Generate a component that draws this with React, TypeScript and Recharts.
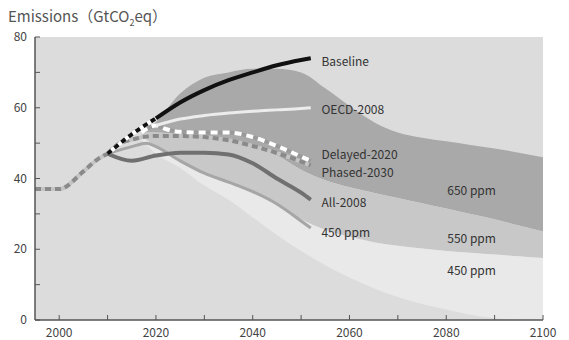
import { ComposedChart, Line, Area, XAxis, YAxis, CartesianGrid, ReferenceDot } from 'recharts';

const histYears = [1995, 2000, 2005, 2008, 2010];
const histValues = [37, 37, 42, 45.5, 47];

const baseDashYears = [2010, 2015, 2020];
const baseDashValues = [47, 52.5, 57];
const baseYears = [2020, 2025, 2030, 2035, 2040, 2045, 2050, 2052];
const baseValues = [57, 61.5, 65, 67.8, 70, 72, 73.5, 74];

const oecdYears = [2020, 2025, 2030, 2035, 2040, 2045, 2050, 2052];
const oecdValues = [55, 56.8, 57.8, 58.5, 59, 59.4, 59.8, 60];

const delayedYears = [2017, 2020, 2022, 2025, 2030, 2035, 2040, 2045, 2050, 2052];
const delayedValues = [53, 55, 54, 53.2, 53, 53, 51.7, 49.2, 46.2, 45];

const phasedYears = [2010, 2012, 2015, 2020, 2025, 2030, 2035, 2040, 2045, 2050, 2052];
const phasedValues = [47, 49.5, 51, 52, 52, 51.7, 50.8, 49.2, 47.2, 44.8, 43.7];

const allYears = [2010, 2015, 2020, 2025, 2030, 2035, 2040, 2045, 2050, 2052];
const allValues = [47, 45, 46.5, 47.3, 47.3, 46.8, 44.3, 40, 36, 34];

const ppmYears = [2010, 2015, 2018, 2020, 2025, 2030, 2035, 2040, 2045, 2050, 2052];
const ppmValues = [47, 49, 50, 49, 45, 41.5, 39, 36.3, 32.8, 28, 26];

// ppm bands
const bandYears = [2017, 2020, 2025, 2030, 2035, 2040, 2045, 2050, 2055, 2060, 2065, 2070, 2075, 2080, 2085, 2090, 2095, 2100];
const band650Top = [53, 56, 64, 68.5, 70, 71, 71, 70, 65.5, 60.5, 56, 53, 51.5, 50.5, 49.5, 48.5, 47.3, 46];
const band650Bottom = [53, 53, 52.5, 52, 50.5, 49, 46.5, 42.5, 39.5, 37.5, 36, 34.5, 33, 31.5, 30, 28.5, 26.7, 25];
const band550Bottom = [52, 49, 45, 41.5, 39, 36, 32.5, 28.5, 25.5, 23.5, 22, 21, 20.2, 19.5, 19, 18.5, 18, 17.5];
const band450Bottom = [51, 47, 43, 38, 34, 29, 24, 19.5, 15.5, 12, 9, 6.5, 4.5, 3, 1.5, 0.5, 0, 0];

const lineLabels = ['Baseline', 'OECD-2008', 'Delayed-2020', 'Phased-2030', 'All-2008', '450 ppm'];
const lineLabelValues = [73, 59.5, 46.8, 41.7, 33.2, 24.7];
const bandLabels = ['650 ppm', '550 ppm', '450 ppm'];
const bandLabelValues = [36.6, 23, 14];

const xTicks = [2000, 2010, 2020, 2030, 2040, 2050, 2060, 2070, 2080, 2090, 2100];
const yTicks = [0, 10, 20, 30, 40, 50, 60, 70, 80];

const FONT = '"Noto Sans CJK KR", "Noto Sans", sans-serif';
const PLOT_LEFT = 35;
const PLOT_BOTTOM = 320;

const put = (rows: Map<number, any>, key: string, xs: number[], vs: any[]) => {
  xs.forEach((x, i) => {
    if (!rows.has(x)) rows.set(x, { year: x });
    rows.get(x)[key] = vs[i];
  });
};

const rows = new Map<number, any>();
put(rows, 'hist', histYears, histValues);
put(rows, 'baseDash', baseDashYears, baseDashValues);
put(rows, 'base', baseYears, baseValues);
put(rows, 'oecd', oecdYears, oecdValues);
put(rows, 'delayed', delayedYears, delayedValues);
put(rows, 'phased', phasedYears, phasedValues);
put(rows, 'all', allYears, allValues);
put(rows, 'ppm', ppmYears, ppmValues);
put(rows, 'b650', bandYears, bandYears.map((_, i) => [band650Bottom[i], band650Top[i]]));
put(rows, 'b550', bandYears, bandYears.map((_, i) => [band550Bottom[i], band650Bottom[i]]));
put(rows, 'b450', bandYears, bandYears.map((_, i) => [band450Bottom[i], band550Bottom[i]]));
const data = Array.from(rows.values()).sort((a, b) => a.year - b.year);

const YTick = ({ x, y, payload }: any) => (
  <g>
    <line x1={PLOT_LEFT} x2={PLOT_LEFT + 5} y1={y} y2={y} stroke="#555" strokeWidth={1} />
    {payload.value % 20 === 0 && (
      <text x={x} y={y} dy={4} textAnchor="end" fontSize={12} fill="#444" fontFamily={FONT}>
        {payload.value}
      </text>
    )}
  </g>
);

const XTick = ({ x, y, payload }: any) => (
  <g>
    <line x1={x} x2={x} y1={PLOT_BOTTOM} y2={PLOT_BOTTOM - 5} stroke="#555" strokeWidth={1} />
    {payload.value % 20 === 0 && (
      <text x={x} y={y} dy={9} textAnchor="middle" fontSize={12} fill="#444" fontFamily={FONT}>
        {payload.value}
      </text>
    )}
  </g>
);

const labelStyle = { position: 'right' as const, offset: 0, fontSize: 12, fill: '#333', fontFamily: FONT };

export default function App() {
  return (
    <div style={{ position: 'absolute', left: 0, top: 0, width: 569, height: 340, background: '#fff' }}>
      <div style={{ position: 'absolute', left: 8, top: 5, fontSize: 15, color: '#555', fontFamily: FONT }}>
        Emissions（GtCO<sub style={{ fontSize: 9 }}>2</sub>eq）
      </div>
      <ComposedChart width={569} height={340} data={data} margin={{ top: 37, right: 26, bottom: 0, left: 0 }}>
        <CartesianGrid fill="#dcdcdc" horizontal={false} vertical={false} />
        <XAxis
          dataKey="year"
          type="number"
          domain={[1995, 2100]}
          ticks={xTicks}
          height={20}
          tickLine={false}
          tick={<XTick />}
          axisLine={{ stroke: '#555', strokeWidth: 1.5 }}
          allowDataOverflow
        />
        <YAxis
          domain={[0, 80]}
          ticks={yTicks}
          width={35}
          tickLine={false}
          tick={<YTick />}
          axisLine={{ stroke: '#555', strokeWidth: 1.5 }}
          allowDataOverflow
        />
        <Area dataKey="b650" type="monotone" fill="#a9a9a9" fillOpacity={1} stroke="none" connectNulls isAnimationActive={false} />
        <Area dataKey="b550" type="monotone" fill="#c8c8c8" fillOpacity={1} stroke="none" connectNulls isAnimationActive={false} />
        <Area dataKey="b450" type="monotone" fill="#e9e9e9" fillOpacity={1} stroke="none" connectNulls isAnimationActive={false} />

        <Line dataKey="hist" type="monotone" stroke="#c4c4c4" strokeWidth={4} dot={false} connectNulls isAnimationActive={false} />
        <Line dataKey="hist" type="monotone" stroke="#8a8a8a" strokeWidth={4} strokeDasharray="6 4" dot={false} connectNulls isAnimationActive={false} />
        <Line dataKey="ppm" type="monotone" stroke="#a6a6a6" strokeWidth={3} dot={false} connectNulls isAnimationActive={false} />
        <Line dataKey="all" type="monotone" stroke="#707070" strokeWidth={4} dot={false} connectNulls isAnimationActive={false} />
        <Line dataKey="phased" type="monotone" stroke="#c4c4c4" strokeWidth={4} dot={false} connectNulls isAnimationActive={false} />
        <Line dataKey="phased" type="monotone" stroke="#8a8a8a" strokeWidth={4} strokeDasharray="6 4" dot={false} connectNulls isAnimationActive={false} />
        <Line dataKey="delayed" type="monotone" stroke="#9a9a9a" strokeWidth={4} dot={false} connectNulls isAnimationActive={false} />
        <Line dataKey="delayed" type="monotone" stroke="#ffffff" strokeWidth={4} strokeDasharray="7 5" dot={false} connectNulls isAnimationActive={false} />
        <Line dataKey="oecd" type="monotone" stroke="#ececec" strokeWidth={3} dot={false} connectNulls isAnimationActive={false} />
        <Line dataKey="baseDash" type="monotone" stroke="#ffffff" strokeWidth={4} dot={false} connectNulls isAnimationActive={false} />
        <Line dataKey="baseDash" type="monotone" stroke="#111111" strokeWidth={4} strokeDasharray="5 4" dot={false} connectNulls isAnimationActive={false} />
        <Line dataKey="base" type="monotone" stroke="#111111" strokeWidth={4} dot={false} connectNulls isAnimationActive={false} />

        {lineLabels.map((t, i) => (
          <ReferenceDot key={t + i} x={2054} y={lineLabelValues[i]} r={1} fill="none" stroke="none" label={{ ...labelStyle, value: t }} />
        ))}
        {bandLabels.map((t, i) => (
          <ReferenceDot key={'b' + t} x={2080} y={bandLabelValues[i]} r={1} fill="none" stroke="none" label={{ ...labelStyle, value: t }} />
        ))}
      </ComposedChart>
    </div>
  );
}
